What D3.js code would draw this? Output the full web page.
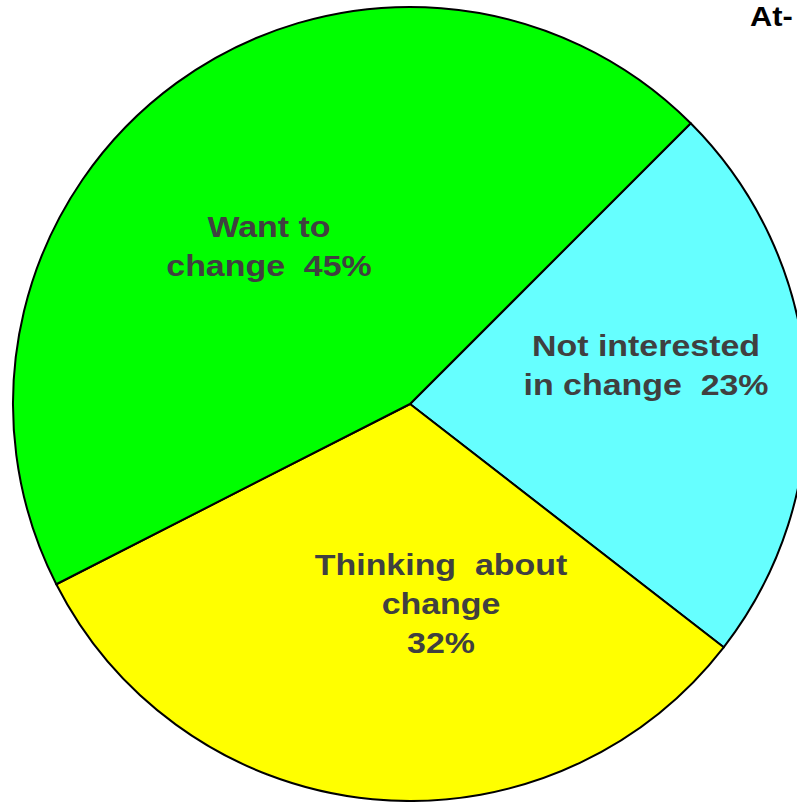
<!DOCTYPE html>
<html>
<head>
<meta charset="utf-8">
<script src="https://cdn.jsdelivr.net/npm/d3@7"></script>
<style>
  html, body { margin: 0; padding: 0; background: #ffffff; overflow: hidden; }
  svg { display: block; }
  text { font-family: "Liberation Sans", Arial, Helvetica, sans-serif; font-weight: bold; white-space: pre; }
</style>
</head>
<body>
<svg id="chart" width="797" height="802"></svg>
<script>
// Stages of readiness to change (percent of respondents)
const categories = ["Not interested in change", "Thinking about change", "Want to change"];
const values = [23, 32, 45];
const labelLines = [
  ["Not interested", "in change  23%"],
  ["Thinking  about", "change", "32%"],
  ["Want to", "change  45%"]
];
const title = "At-";

const W = 797, H = 802;
const cx = 410, cy = 404, radius = 397;
const sliceColors = ["#66ffff", "#ffff00", "#00ff00"];
// label anchor (centre x, first baseline y) relative to pie centre
const labelAnchor = [[236, -48], [31, 171], [-141, -167]];
const lineGap = 39;
const stretch = 1.17;

const svg = d3.select("#chart");

const color = d3.scaleOrdinal().domain(categories).range(sliceColors);

const pie = d3.pie()
  .sort(null)
  .value(d => d.value)
  .startAngle(Math.PI / 4)
  .endAngle(Math.PI / 4 + 2 * Math.PI);

const arc = d3.arc().innerRadius(0).outerRadius(radius);

const data = categories.map((c, i) => ({ category: c, value: values[i], lines: labelLines[i], anchor: labelAnchor[i] }));

const g = svg.append("g").attr("transform", `translate(${cx},${cy})`);

g.selectAll("path.slice")
  .data(pie(data))
  .join("path")
  .attr("class", "slice")
  .attr("d", arc)
  .attr("fill", d => color(d.data.category))
  .attr("stroke", "#000")
  .attr("stroke-width", 2)
  .attr("stroke-linejoin", "round");

const labels = g.selectAll("text.label")
  .data(pie(data))
  .join("text")
  .attr("class", "label")
  .attr("text-anchor", "middle")
  .attr("fill", "#404040")
  .attr("font-size", 29)
  .attr("transform", d => `translate(${d.data.anchor[0]},${d.data.anchor[1]}) scale(${stretch},1)`);

labels.selectAll("tspan")
  .data(d => d.data.lines)
  .join("tspan")
  .attr("x", 0)
  .attr("dy", (d, i) => i === 0 ? 0 : lineGap)
  .text(d => d);

svg.append("text")
  .attr("font-size", 28)
  .attr("fill", "#000")
  .attr("transform", "translate(750,26) scale(1.1,1)")
  .text(title);
</script>
</body>
</html>
